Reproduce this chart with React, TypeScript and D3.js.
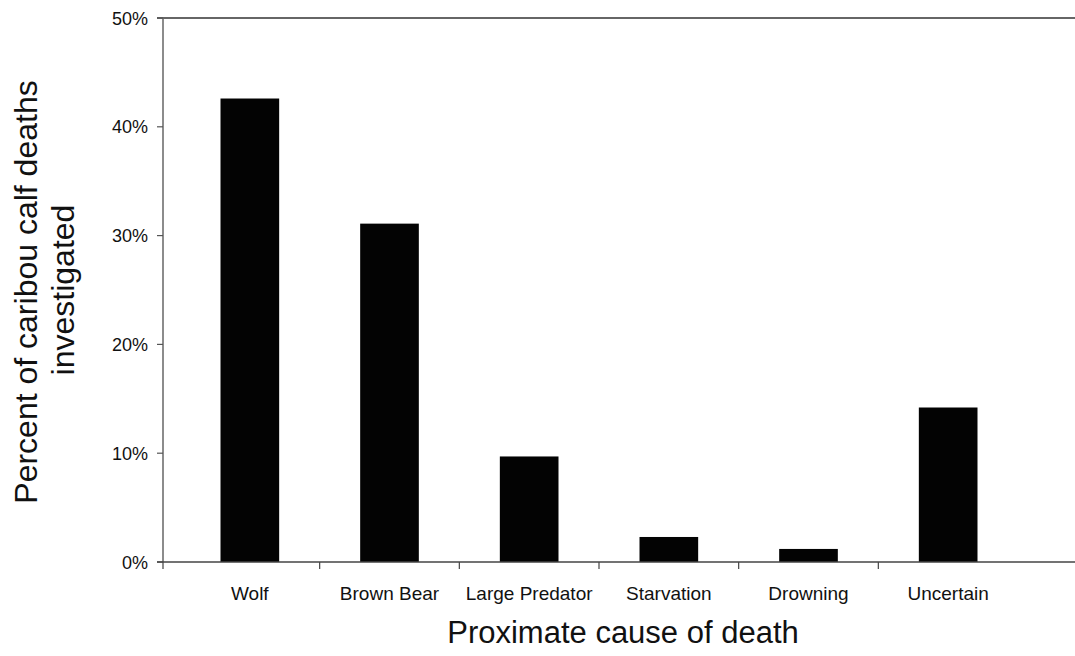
import { useEffect, useRef } from "react";
import * as d3 from "d3";

const causes = ["Wolf", "Brown Bear", "Large Predator", "Starvation", "Drowning", "Uncertain"];
const percents = [42.6, 31.1, 9.7, 2.3, 1.2, 14.2];
const yTicks = [0, 10, 20, 30, 40, 50];

const width = 1075;
const height = 656;

function App() {
  const svgRef = useRef<SVGSVGElement | null>(null);

  useEffect(() => {
    if (!svgRef.current) return;
    const svg = d3.select(svgRef.current);
    svg.selectAll("*").remove();

    const font = "'Liberation Sans', Arial, Helvetica, sans-serif";
    const axisX = 163;

    const y = d3.scaleLinear().domain([0, 50]).range([562, 18]);
    const x = d3.scaleBand<string>().domain(causes).range([180, 1018]).padding(0);
    const barW = x.bandwidth() * 0.42;

    const data = causes.map((c, i) => ({ cause: c, value: percents[i] }));

    // bars
    svg
      .selectAll(".bar")
      .data(data)
      .enter()
      .append("rect")
      .attr("x", (d) => x(d.cause)! + (x.bandwidth() - barW) / 2)
      .attr("y", (d) => y(d.value))
      .attr("width", barW)
      .attr("height", (d) => y(0) - y(d.value))
      .attr("fill", "#030303");

    // top frame line
    svg
      .append("line")
      .attr("x1", axisX - 6)
      .attr("x2", width)
      .attr("y1", y(50))
      .attr("y2", y(50))
      .attr("stroke", "#333")
      .attr("stroke-width", 1.5);

    // y axis
    svg
      .append("line")
      .attr("x1", axisX)
      .attr("x2", axisX)
      .attr("y1", y(50))
      .attr("y2", y(0) + 7)
      .attr("stroke", "#666")
      .attr("stroke-width", 1.5);

    svg
      .selectAll(".ytick")
      .data(yTicks)
      .enter()
      .append("line")
      .attr("x1", axisX - 6)
      .attr("x2", axisX)
      .attr("y1", (d) => y(d))
      .attr("y2", (d) => y(d))
      .attr("stroke", "#555")
      .attr("stroke-width", 1.2);

    svg
      .selectAll(".ylabel")
      .data(yTicks)
      .enter()
      .append("text")
      .attr("x", axisX - 15)
      .attr("y", (d) => y(d) + 6.5)
      .attr("text-anchor", "end")
      .style("font-family", font)
      .style("font-size", "18px")
      .attr("fill", "#111")
      .text((d) => `${d}%`);

    // x axis
    svg
      .append("line")
      .attr("x1", axisX - 6)
      .attr("x2", width)
      .attr("y1", y(0))
      .attr("y2", y(0))
      .attr("stroke", "#444")
      .attr("stroke-width", 1.5);

    const step = x.step();
    const bounds = causes.slice(1).map((c) => x(c)!);
    svg
      .selectAll(".xtick")
      .data(bounds)
      .enter()
      .append("line")
      .attr("x1", (d) => d)
      .attr("x2", (d) => d)
      .attr("y1", y(0))
      .attr("y2", y(0) + 7)
      .attr("stroke", "#444")
      .attr("stroke-width", 1.2);

    svg
      .selectAll(".xlabel")
      .data(causes)
      .enter()
      .append("text")
      .attr("x", (d) => x(d)! + step / 2)
      .attr("y", 600)
      .attr("text-anchor", "middle")
      .style("font-family", font)
      .style("font-size", "19px")
      .attr("fill", "#111")
      .text((d) => d);

    // axis titles
    svg
      .append("text")
      .attr("x", 623)
      .attr("y", 643)
      .attr("text-anchor", "middle")
      .style("font-family", font)
      .style("font-size", "31px")
      .attr("fill", "#111")
      .text("Proximate cause of death");

    svg
      .append("text")
      .attr("transform", "translate(37,292) rotate(-90)")
      .attr("text-anchor", "middle")
      .style("font-family", font)
      .style("font-size", "32px")
      .attr("fill", "#111")
      .text("Percent of caribou calf deaths");

    svg
      .append("text")
      .attr("transform", "translate(74,290) rotate(-90)")
      .attr("text-anchor", "middle")
      .style("font-family", font)
      .style("font-size", "32px")
      .attr("fill", "#111")
      .text("investigated");
  }, []);

  return (
    <svg
      ref={svgRef}
      width={width}
      height={height}
      style={{ position: "absolute", left: 0, top: 0, background: "#fff" }}
    ></svg>
  );
}

export default App;
